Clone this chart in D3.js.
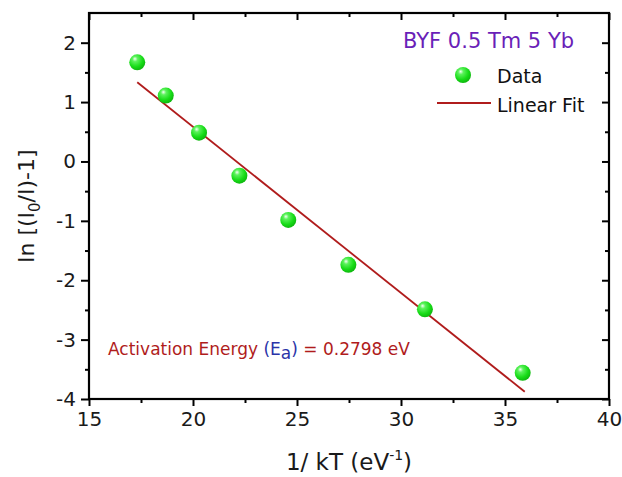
<!DOCTYPE html>
<meta charset="utf-8">
<head>
<script src="https://d3js.org/d3.v7.min.js"></script>
<style>
  body { margin: 0; background: #fff; }
  text { font-family: "DejaVu Sans", Verdana, sans-serif; }
</style>
</head>
<body>
<div id="chart"></div>
<script>
// data
var invKT = [17.32, 18.69, 20.29, 22.23, 24.58, 27.47, 31.15, 35.85];
var lnVal = [1.67, 1.11, 0.485, -0.24, -0.985, -1.74, -2.49, -3.56];
var fitSlope = -0.2798, fitIntercept = 6.18;
var xTicks = [15, 20, 25, 30, 35, 40];
var yTicks = [-4, -3, -2, -1, 0, 1, 2];

var W = 622, H = 477;
var margin = {top: 13, right: 13, bottom: 78, left: 89};
var width = W - margin.left - margin.right,
    height = H - margin.top - margin.bottom;

var svg = d3.select("#chart").append("svg")
    .attr("width", W).attr("height", H)
  .append("g")
    .attr("transform", "translate(" + margin.left + "," + margin.top + ")");

var x = d3.scaleLinear().domain([15, 40]).range([0, width]);
var y = d3.scaleLinear().domain([-4, 2.5]).range([height, 0]);

// sphere gradient for markers
var grad = svg.append("defs").append("radialGradient")
    .attr("id", "ball").attr("cx", "40%").attr("cy", "35%").attr("r", "65%")
    .attr("fx", "35%").attr("fy", "28%");
grad.append("stop").attr("offset", "0%").attr("stop-color", "#f4fff4");
grad.append("stop").attr("offset", "25%").attr("stop-color", "#5cf25c");
grad.append("stop").attr("offset", "70%").attr("stop-color", "#17dc17");
grad.append("stop").attr("offset", "100%").attr("stop-color", "#0fb80f");

var minor = function(a) {
  var out = [];
  for (var i = 0; i < a.length - 1; i++) out.push((a[i] + a[i + 1]) / 2);
  return out;
};
var fmt = function(d) { return String(d); };  // plain hyphen, like the original

function styleAxis(g) {
  g.select(".domain").remove();
  g.selectAll("line").attr("stroke", "#000").attr("stroke-width", 2);
  g.selectAll("text").attr("font-size", "20px").attr("fill", "#1a1a1a");
}

// bottom axis
svg.append("g").attr("transform", "translate(0," + height + ")")
  .call(d3.axisBottom(x).tickValues(xTicks).tickSize(7).tickPadding(6).tickFormat(fmt))
  .call(styleAxis);
svg.append("g").attr("transform", "translate(0," + height + ")")
  .call(d3.axisBottom(x).tickValues(minor(xTicks)).tickSize(4).tickFormat(""))
  .call(styleAxis);
// left axis
svg.append("g")
  .call(d3.axisLeft(y).tickValues(yTicks).tickSize(8).tickPadding(5).tickFormat(fmt))
  .call(styleAxis);
svg.append("g")
  .call(d3.axisLeft(y).tickValues(minor(yTicks)).tickSize(4).tickFormat(""))
  .call(styleAxis);
// mirrored inward ticks on top and right
svg.append("g")
  .call(d3.axisBottom(x).tickValues(xTicks).tickSize(7).tickFormat(""))
  .call(styleAxis);
svg.append("g")
  .call(d3.axisBottom(x).tickValues(minor(xTicks)).tickSize(4).tickFormat(""))
  .call(styleAxis);
svg.append("g").attr("transform", "translate(" + width + ",0)")
  .call(d3.axisLeft(y).tickValues(yTicks).tickSize(7).tickFormat(""))
  .call(styleAxis);
svg.append("g").attr("transform", "translate(" + width + ",0)")
  .call(d3.axisLeft(y).tickValues(minor(yTicks)).tickSize(4).tickFormat(""))
  .call(styleAxis);

// frame
svg.append("rect")
  .attr("x", 0).attr("y", 0).attr("width", width).attr("height", height)
  .attr("fill", "none").attr("stroke", "#000").attr("stroke-width", 2.2);

// linear fit
var xr = d3.extent(invKT);
svg.append("line")
  .attr("x1", x(xr[0])).attr("y1", y(fitIntercept + fitSlope * xr[0]))
  .attr("x2", x(xr[1] + 0.1)).attr("y2", y(fitIntercept + fitSlope * (xr[1] + 0.1)))
  .attr("stroke", "#b01c1c").attr("stroke-width", 1.8);

// data points
svg.selectAll("circle.pt")
  .data(invKT)
  .enter().append("circle")
    .attr("class", "pt")
    .attr("cx", function(d) { return x(d); })
    .attr("cy", function(d, i) { return y(lnVal[i]); })
    .attr("r", 8)
    .attr("fill", "url(#ball)");

// title and legend
svg.append("text")
  .attr("x", 314).attr("y", 35)
  .attr("font-size", "21px").attr("fill", "#6a1fb8")
  .text("BYF 0.5 Tm 5 Yb");

svg.append("circle")
  .attr("cx", 374).attr("cy", 62).attr("r", 8).attr("fill", "url(#ball)");
svg.append("text")
  .attr("x", 408).attr("y", 70).attr("font-size", "19px").attr("fill", "#111")
  .text("Data");
svg.append("line")
  .attr("x1", 348).attr("x2", 402).attr("y1", 90).attr("y2", 90)
  .attr("stroke", "#b01c1c").attr("stroke-width", 1.8);
svg.append("text")
  .attr("x", 408).attr("y", 99).attr("font-size", "19px").attr("fill", "#111")
  .text("Linear Fit");

// annotation
var ann = svg.append("text")
  .attr("x", 19).attr("y", 342).attr("font-size", "17px").attr("fill", "#b01c1c");
ann.append("tspan").text("Activation Energy ");
ann.append("tspan").attr("fill", "#2a33a8").text("(E");
ann.append("tspan").attr("fill", "#2a33a8").attr("dy", 4).text("a");
ann.append("tspan").attr("fill", "#2a33a8").attr("dy", -4).text(")");
ann.append("tspan").text(" = 0.2798 eV");

// axis titles
var xl = svg.append("text")
  .attr("x", width / 2).attr("y", height + 71)
  .attr("text-anchor", "middle").attr("font-size", "23px").attr("fill", "#1a1a1a");
xl.append("tspan").text("1/ kT (eV");
xl.append("tspan").attr("dy", -10).attr("font-size", "14px").text("-1");
xl.append("tspan").attr("dy", 10).text(")");

var yl = svg.append("text")
  .attr("transform", "translate(" + (-55) + "," + (height / 2) + ") rotate(-90)")
  .attr("text-anchor", "middle").attr("font-size", "22px").attr("fill", "#1a1a1a");
yl.append("tspan").text("ln [(I");
yl.append("tspan").attr("dy", 6).attr("font-size", "15px").text("0");
yl.append("tspan").attr("dy", -6).text("/I)-1]");
</script>
</body>
